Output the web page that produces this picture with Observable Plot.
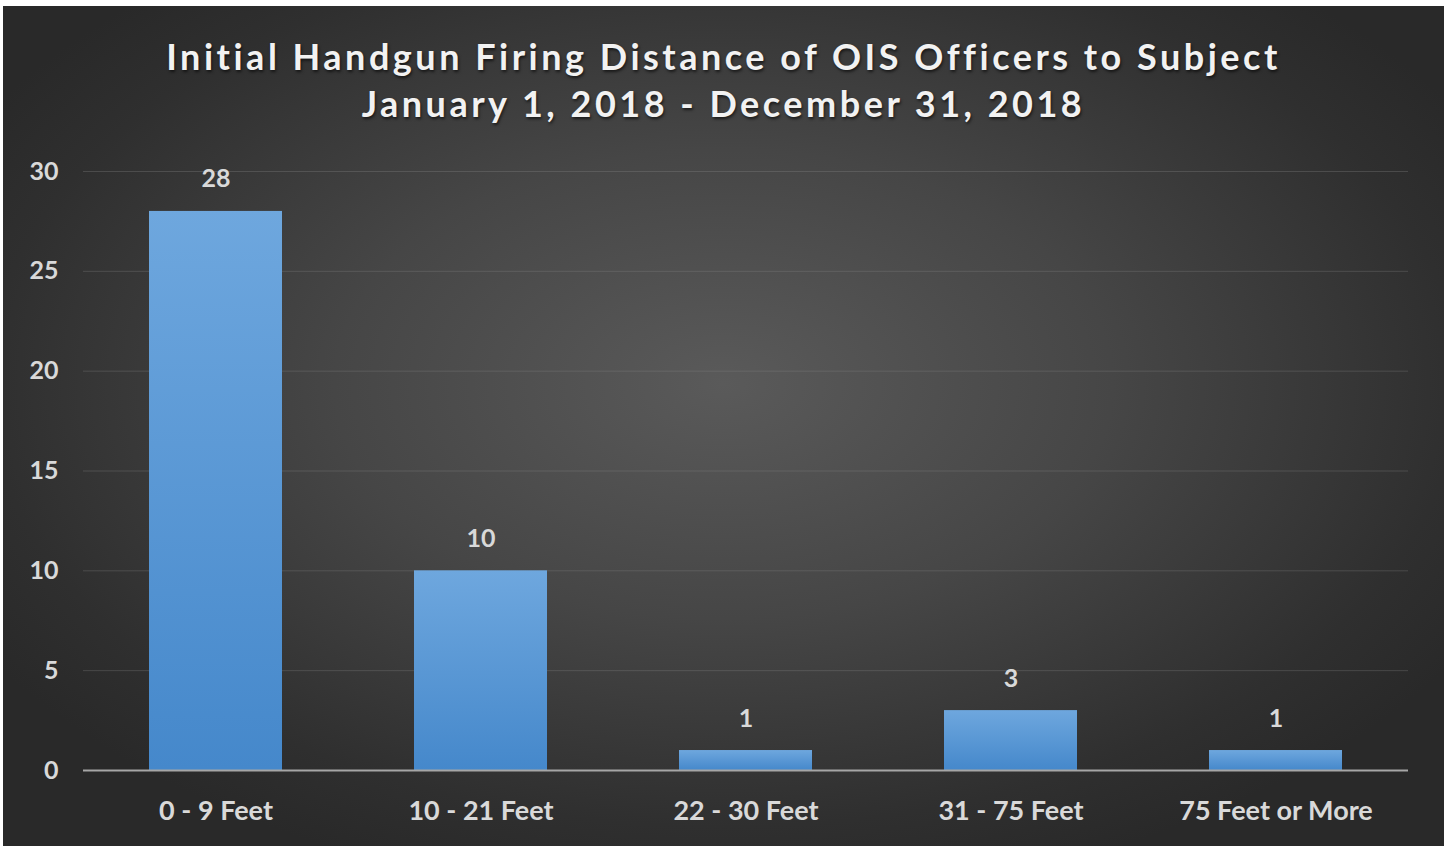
<!DOCTYPE html>
<html>
<head>
<meta charset="utf-8">
<script src="https://cdn.jsdelivr.net/npm/d3@7"></script>
<script src="https://cdn.jsdelivr.net/npm/@observablehq/plot@0.6"></script>
<style>
  html, body { margin: 0; padding: 0; background: #ffffff; width: 1450px; height: 846px; overflow: hidden; }
  #frame {
    position: absolute; left: 3px; top: 6px; width: 1441px; height: 840px;
    background: radial-gradient(ellipse 60% 62% at 50% 45%, #5a5a5a 0%, #464646 45%, #2f2f2f 85%, #292929 100%);
    overflow: hidden;
  }
  #title {
    position: absolute; left: 0; top: 27px; width: 1441px; text-align: center;
    font-family: Lato, "Open Sans", sans-serif; font-weight: 700; font-size: 36px;
    letter-spacing: 3.5px; line-height: 47px; color: #f2f2f2;
    text-shadow: 1px 2px 3px rgba(0,0,0,0.6);
  }
  #chart { position: absolute; left: -3px; top: 118px; }
</style>
</head>
<body>
<div id="frame">
  <div id="title">Initial Handgun Firing Distance of OIS Officers to Subject<br>January 1, 2018 - December 31, 2018</div>
  <div id="chart"></div>
</div>
<script>
const categories = ["0 - 9 Feet", "10 - 21 Feet", "22 - 30 Feet", "31 - 75 Feet", "75 Feet or More"];
const counts = [28, 10, 1, 3, 1];
const yTicks = [0, 5, 10, 15, 20, 25, 30];

const data = categories.map((c, i) => ({category: c, count: counts[i]}));

const plot = Plot.plot({
  width: 1444,
  height: 722,
  marginTop: 47,
  marginBottom: 76,
  marginLeft: 83,
  marginRight: 36,
  style: {background: "transparent", color: "#d9d9d9", fontFamily: "Lato, 'Open Sans', sans-serif", fontWeight: 700},
  x: {domain: categories, paddingInner: 0.5, paddingOuter: 0.25, align: 0.5, label: null},
  y: {domain: [0, 30], label: null},
  marks: [
    Plot.gridY(yTicks, {stroke: "#8a8a8a", strokeOpacity: 0.3, strokeWidth: 1}),
    Plot.barY(data, {x: "category", y: "count", fill: "url(#barGrad)"}),
    Plot.ruleY([0], {stroke: "#a6a6a6", strokeWidth: 2}),
    Plot.text(data, {x: "category", y: "count", text: d => String(d.count), dy: -32, fontSize: 25, fill: "#d9d9d9", fontWeight: 700}),
    Plot.axisY({ticks: yTicks, tickSize: 0, tickPadding: 25, fontSize: 25, label: null, fill: "#d9d9d9"}),
    Plot.axisX({tickSize: 0, tickPadding: 30, fontSize: 27, label: null, fill: "#d9d9d9"})
  ]
});

const svg = d3.select(plot);
const defs = svg.insert("defs", ":first-child");
const g = defs.append("linearGradient").attr("id", "barGrad").attr("x1", 0).attr("y1", 0).attr("x2", 0).attr("y2", 1);
g.append("stop").attr("offset", "0%").attr("stop-color", "#6ea7de");
g.append("stop").attr("offset", "100%").attr("stop-color", "#4588cb");

document.getElementById("chart").appendChild(plot);
</script>
</body>
</html>
